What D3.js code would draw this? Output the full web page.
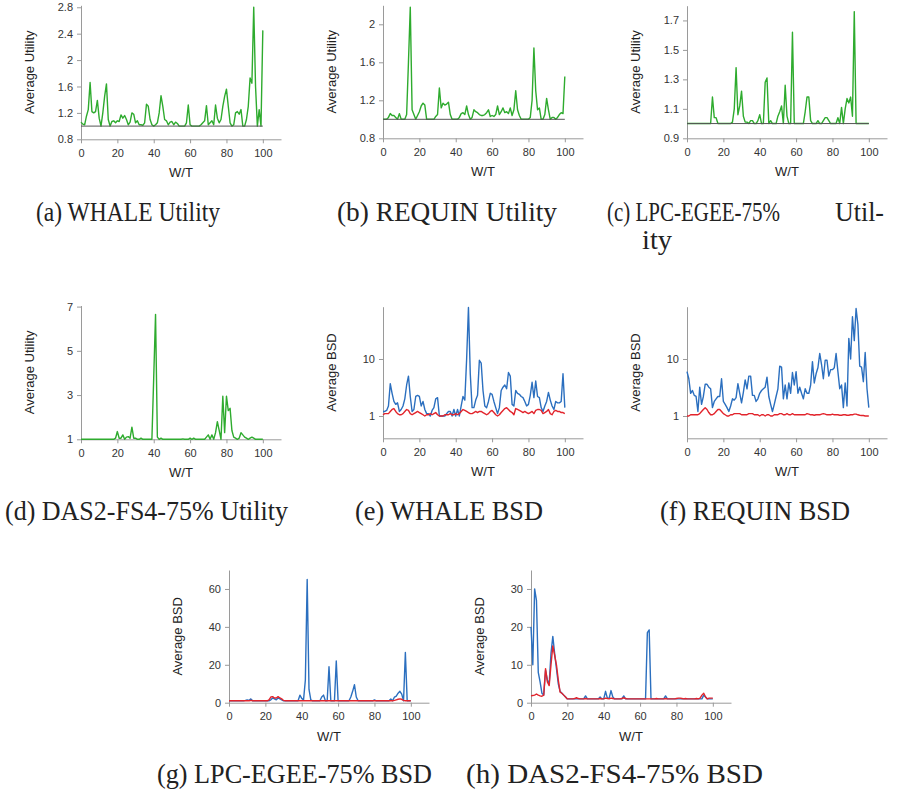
<!DOCTYPE html>
<html>
<head>
<meta charset="utf-8">
<script src="https://cdn.jsdelivr.net/npm/d3@7"></script>
<style>
  body { margin: 0; background: #fff; }
  .axis path, .axis line { stroke: #9a9a9a; }
  .axis text { font-family: "Liberation Sans", Arial, sans-serif; font-size: 11px; fill: #333; }
  .label { font-family: "Liberation Sans", Arial, sans-serif; font-size: 13px; fill: #222; }
  .caption { font-family: "Liberation Serif", serif; font-size: 27px; fill: #222; }
  .series { fill: none; stroke-width: 1.4; stroke-linejoin: round; }
</style>
</head>
<body>
<svg id="fig" width="908" height="794"></svg>
<script>

// W/T values, one point per unit
var wt = d3.range(0, 101);
var xTicks = [0, 20, 40, 60, 80, 100];

// (a) WHALE utility
var whaleUtil = [
  1.06,1.03,1.02,1.15,1.25,1.66,1.22,1.2,1.22,1.39,
  1.12,1,1.2,1.45,1.64,1.1,1,1.07,1.08,1.05,
  1.08,1.07,1.17,1.12,1.16,1.1,1.02,1.06,1.2,1.18,
  1.05,1.08,1.02,1.02,1.01,1.05,1.33,1.3,1.1,1.02,
  1,1.02,1.05,1.2,1.46,1.3,1.1,1.08,1.02,1.06,
  1.07,1.02,1.06,1.04,1,1,1,1,1.05,1.32,
  1.02,1,1,1,1,1,1.02,1.05,1.08,1.31,
  1.02,1.05,1.08,1.02,1.32,1.12,1.05,1.1,1.3,1.45,
  1.56,1.3,1.05,1,1.02,1.2,1.22,1.18,1.25,1,
  1,1.1,1.3,1.73,1.65,2.8,1.6,1,1.25,1,
  2.45 ];

// (b) REQUIN utility
var requinUtil = [
  1,1,1,1.02,1.06,1.04,1.04,1.02,1,1.06,
  1,1,1,1.05,1.6,2.18,1.1,1.05,1,1.04,
  1.08,1.14,1.17,1.15,1,1,1,1,1,1.03,
  1.05,1.33,1.12,1.17,1.15,1.16,1.18,1.05,1,1,
  1,1,1.02,1.06,1.07,1.05,1.14,1.05,1,1.02,
  1.1,1.08,1.07,1.05,1.04,1.04,1.05,1.07,1.1,1.03,
  1.04,1.03,1.05,1.14,1.05,1.08,1.12,1.07,1.08,1.06,
  1.12,1.04,1.1,1.3,1.1,1.04,1,1,1,1,
  1,1.02,1.2,1.75,1.3,1.1,1.12,1,1,1.05,
  1.22,1.1,1,1.02,1.02,1,1.02,1.05,1.07,1.06,
  1.45 ];

// (c) LPC-EGEE-75% utility
var lpcUtil = [
  1,1,1,1,1,1,1,1,1,1,
  1,1,1,1,1.18,1.04,1.04,1,1,1,
  1,1,1,1,1,1.01,1.1,1.38,1.06,1.12,
  1.22,1.05,1.01,1.01,1,1.02,1.02,1,1,1.02,
  1.06,1,1,1.28,1.31,1,1.02,1,1,1,
  1.05,1.08,1.12,1,1.26,1.05,1,1,1.62,1,
  1,1,1,1,1,1.08,1.18,1.18,1.02,1,
  1,1,1.02,1,1,1.02,1.04,1.04,1.02,1,
  1,1,1,1.04,1,1.11,1,1.1,1.17,1.14,
  1.18,1.05,1.76,1,1,1,1,1,1,1,
  1 ];

// (d) DAS2-FS4-75% utility
var dasUtil = [
  1,1,1,1,1,1,1,1,1,1,
  1,1,1,1,1,1,1,1,1,1.05,
  1.35,1.05,1.05,1.2,1,1.1,1.12,1.05,1.55,1.05,
  1.05,1,1,1.05,1,1,1,1,1,1,
  3.8,6.65,1.1,1,1.05,1,1,1,1,1,
  1,1,1,1,1,1,1.02,1,1,1,
  1.05,1,1.05,1,1,1,1,1,1,1.1,
  1.2,1,1.2,1,1.3,1.8,1.4,1,2.95,1.3,
  2.95,2.3,2.4,1.4,1.1,1.05,1,1.05,1.3,1.2,
  1.1,1.05,1,1.05,1.1,1.05,1,1,1,1,
  1 ];

// reference utility of 1
var baseUtil = [1, 1];
var baseWt = [0, 100];

// (e) WHALE BSD
var whaleBsdBlue = [
  1.2,1.2,1.25,1.5,3.7,2.5,1.8,1.6,1.7,1.2,
  1.3,1.5,2.0,3.5,5.0,2.2,1.2,1.3,2.2,2.3,
  2.2,1.5,1.8,1.3,1.1,1.1,1.0,1.25,1.4,2.0,
  2.1,1.0,1.0,1.0,1.0,1.1,1.2,1.2,1.0,1.3,
  1.0,1.3,1.0,1.5,2.2,1.9,10,80,5.5,1.4,
  1.4,1.9,2.3,9.5,8.5,2.8,1.5,1.4,1.8,2.5,
  2.4,1.8,1.4,1.1,1.4,2.8,3.2,3.5,3.0,5.8,
  5.0,1.6,1.5,2.8,2.5,2.4,2.2,2.1,1.8,1.5,
  1.6,2.3,3.9,2.1,4.1,2.2,2.1,1.4,1.2,1.5,
  1.8,2.6,1.9,1.5,1.3,1.8,1.7,1.7,1.8,5.5,
  1.4 ];
var whaleBsdRed = [
  1.05,1.1,1.1,1.1,1.2,1.3,1.35,1.2,1.1,1.05,
  1.05,1.1,1.2,1.3,1.25,1.1,1.05,1.1,1.15,1.2,
  1.15,1.1,1.05,1.0,1.05,1.05,1.1,1.05,1.1,1.15,
  1.05,1.0,1.0,1.0,1.05,1.05,1.05,1.1,1.05,1.05,
  1.1,1.05,1.1,1.2,1.3,1.25,1.2,1.15,1.1,1.1,
  1.15,1.2,1.15,1.2,1.2,1.15,1.1,1.05,1.1,1.2,
  1.25,1.15,1.05,1.0,1.05,1.15,1.25,1.35,1.4,1.3,
  1.2,1.15,1.05,1.35,1.3,1.25,1.2,1.15,1.2,1.15,
  1.1,1.15,1.2,1.1,1.25,1.3,1.3,1.25,1.1,1.15,
  1.2,1.3,1.1,1.05,1.2,1.25,1.2,1.2,1.15,1.15,
  1.1 ];

// (f) REQUIN BSD
var requinBsdBlue = [
  6.0,4.5,2.5,2.8,2.3,2.2,1.2,3.2,1.6,2.2,
  3.6,3.6,3.2,3.0,1.4,1.8,2.0,2.2,2.2,4.5,
  1.8,1.6,1.4,1.2,1.5,2.0,1.9,2.1,3.7,2.5,
  1.7,2.6,4.3,3.0,5.0,5.0,2.3,2.3,1.8,2.0,
  2.5,2.8,3.0,3.2,4.8,2.2,1.6,1.2,1.6,2.2,
  3.0,7.5,7.2,2.0,3.5,2.0,3.8,2.5,5.8,3.5,
  6.0,2.5,3.2,2.5,2.0,3.0,2.5,2.5,3.5,9.0,
  3.8,5.5,7.0,12.5,8.0,4.5,9.5,9.5,5.0,6.5,
  6.5,7.0,12.5,6.0,3.0,3.5,1.4,3.8,1.5,23,
  10,55,21,77,40,7.5,7.2,4.0,13,3.0,
  1.4 ];
var requinBsdRed = [
  1.0,1.0,1.05,1.05,1.05,1.05,1.05,1.1,1.2,1.3,
  1.4,1.3,1.15,1.05,1.05,1.1,1.2,1.3,1.3,1.2,
  1.1,1.05,1.0,1.0,1.05,1.05,1.1,1.1,1.1,1.1,
  1.05,1.05,1.05,1.05,1.1,1.1,1.1,1.05,1.05,1.05,
  1.0,1.05,1.05,1.0,1.05,1.05,1.0,1.0,1.05,1.05,
  1.05,1.1,1.1,1.05,1.05,1.1,1.05,1.05,1.1,1.05,
  1.05,1.05,1.05,1.05,1.05,1.05,1.1,1.08,1.05,1.05,
  1.03,1.05,1.05,1.05,1.08,1.1,1.08,1.05,1.05,1.05,
  1.08,1.05,1.05,1.05,1.03,1.03,1.05,1.05,1.03,1.03,
  1.05,1.05,1.08,1.08,1.05,1.03,1.02,1.02,1.0,1.0,
  1.0 ];

// (g) LPC-EGEE-75% BSD
var lpcBsdBlue = [
  1,1,1,1,1,1,1,1,1,1.2,
  1.5,1.2,2.0,1,1,1,1,1,1,1,
  1,1,1,1.5,2.5,2.0,1.5,2.5,2.0,1.5,
  1,1,1,1,1,1,1,1,1,4.0,
  2.3,1.5,12,65,7,1.5,1,1,1,1,
  1,3.0,4.0,1,1,19,1,1,1,22,
  1,1,1,1,1,1,1,3.0,6.0,9.5,
  3.0,1,1,1,1,1,1,1,1,1,
  1.5,1,1,1,1,1,1,1,1,2.0,
  1,3.0,3.5,5.0,6.0,4.5,1,26.5,1,1,
  1 ];
var lpcBsdRed = [
  1,1,1,1,1,1,1,1,1,1,
  1,1,1.2,1,1,1,1,1,1,1,
  1,1,1.5,3.0,3.2,2.5,2.5,3.2,2.5,2.0,
  1.2,1,1,1,1,1,1,1,1,1,
  1,1,1,1,1,1,1,1,1,1,
  1,1,1,1,1,1,1,1,1,1,
  1,1,1,1,1,1,1,1,1,1,
  1,1,1,1,1,1,1,1,1,1,
  1,1,1,1,1,1,1,1,1,1,
  1,1.2,1.5,1.8,2.0,1.8,1.2,1,1,1,
  1 ];

// (h) DAS2-FS4-75% BSD
var dasBsdBlue = [
  20,10,30,27,8,5.5,2.5,2.0,8.5,6.0,
  5.0,13,17.5,13,9,5,3,2.5,2.0,1.5,
  1,1,1,1,1,1,1,1,1,1,
  1.8,1,1,1,1,1,1,1,1.5,1,
  1,3.0,1.2,1.2,3.2,1.5,1,1,1,1,
  1,1.8,1,1,1,1,1,1,1,1,
  1,1,1,1,18.5,19.2,1,1,1,1,
  1,1,1,1,1.8,1,1,1,1,1,
  1,1,1,1,1,1,1,1,1,1,
  1,1,1,1,1,2.0,1.5,1,1,1,
  1 ];
var dasBsdRed = [
  1.8,1.9,2.0,2.3,2.0,1.8,1.7,2.0,9.0,5.5,
  4.5,10,15,12.5,10,6,2.8,2.5,2.0,1.5,
  1.0,1.0,1.0,1.0,1.1,1.3,1.1,1.0,1.0,1.0,
  1.1,1.0,1.0,1.0,1.0,1.0,1.0,1.0,1.1,1.0,
  1.0,1.2,1.1,1.0,1.2,1.1,1.0,1.0,1.0,1.0,
  1.1,1.3,1.1,1.0,1.0,1.0,1.0,1.0,1.0,1.0,
  1.0,1.0,1.0,1.0,1.0,1.0,1.0,1.0,1.0,1.1,
  1.0,1.0,1.0,1.0,1.1,1.0,1.0,1.0,1.0,1.0,
  1.1,1.2,1.2,1.1,1.0,1.1,1.0,1.0,1.0,1.0,
  1.0,1.1,1.0,1.2,2.0,2.5,1.5,1.0,1.2,1.2,
  1.2 ];

// y tick labels
var ticksA = [0.8, 1.2, 1.6, 2, 2.4, 2.8];
var ticksB = [0.8, 1.2, 1.6, 2];
var ticksC = [0.9, 1.1, 1.3, 1.5, 1.7];
var ticksD = [1, 3, 5, 7];
var ticksBsdLog = [1, 10];
var ticksG = [0, 20, 40, 60];
var ticksH = [0, 10, 20, 30];

var captions = [
  '(a) WHALE Utility', '(b) REQUIN Utility', '(c) LPC-EGEE-75%', 'Util-', 'ity',
  '(d) DAS2-FS4-75% Utility', '(e) WHALE BSD', '(f) REQUIN BSD',
  '(g) LPC-EGEE-75% BSD', '(h) DAS2-FS4-75% BSD'
];

var GREEN = '#2eab2e', BLUE = '#2b6fbf', RED = '#e2242c', BASE = '#555';

var svg = d3.select('#fig');
svg.append('rect').attr('width', 908).attr('height', 794).attr('fill', '#fff');

function drawPanel( p ) {

  var scaleX = d3.scaleLinear()
    .domain([ 0, 110 ])
    .range([ p.left, p.left + 200 ]);

  var scaleY = ( p.log ? d3.scaleLog() : d3.scaleLinear() )
    .domain( p.yDomain )
    .range([ p.bottom, p.top ]);

  var axisX = d3.axisBottom( scaleX )
    .tickValues( xTicks )
    .tickSize( 4 ).tickSizeOuter( 0 ).tickPadding( 6 );

  var axisY = d3.axisLeft( scaleY )
    .tickValues( p.yTicks )
    .tickFormat( function( d ) { return String( d ); })
    .tickSize( 4 ).tickSizeOuter( 0 ).tickPadding( 4 );

  svg.append('g')
    .classed('axis', true)
    .attr('transform', 'translate(0,' + p.bottom + ')')
    .call( axisX );

  svg.append('g')
    .classed('axis', true)
    .attr('transform', 'translate(' + p.left + ',0)')
    .call( axisY );

  var line = d3.line()
    .x( function( d, i ) { return scaleX( wt[i] ); })
    .y( function( d ) { return scaleY( d ); });

  p.series.forEach( function( s ) {
    svg.append('path')
      .classed('series', true)
      .datum( s.values )
      .attr('stroke', s.color )
      .attr('d', line );
  });

  if ( p.base ) {
    svg.append('path')
      .datum( baseUtil )
      .attr('fill', 'none')
      .attr('stroke', BASE )
      .attr('stroke-width', 1)
      .attr('d', d3.line()
        .x( function( d, i ) { return scaleX( baseWt[i] ); })
        .y( function( d ) { return scaleY( d ); }) );
  }

  var midY = ( p.top + p.bottom ) / 2;
  svg.append('text')
    .classed('label', true)
    .attr('text-anchor', 'middle')
    .attr('transform', 'translate(' + ( p.left - 47 ) + ',' + midY + ') rotate(-90)')
    .text( p.yLabel );

  svg.append('text')
    .classed('label', true)
    .attr('text-anchor', 'middle')
    .attr('x', scaleX( 55 ) )
    .attr('y', p.bottom + 38 )
    .text('W/T');
}

var panels = [
  { left: 81,  top: 5.3, bottom: 139.3, yDomain: [0.8, 2.83], yTicks: ticksA, yLabel: 'Average Utility', base: true,
    series: [ { values: whaleUtil, color: GREEN } ] },
  { left: 383, top: 5.3, bottom: 138.3, yDomain: [0.8, 2.2], yTicks: ticksB, yLabel: 'Average Utility', base: true,
    series: [ { values: requinUtil, color: GREEN } ] },
  { left: 687, top: 5.7, bottom: 138.3, yDomain: [0.9, 1.8], yTicks: ticksC, yLabel: 'Average Utility', base: true,
    series: [ { values: lpcUtil, color: GREEN } ] },
  { left: 81,  top: 305.5, bottom: 439.3, yDomain: [1, 7.05], yTicks: ticksD, yLabel: 'Average Utility',
    series: [ { values: dasUtil, color: GREEN } ] },
  { left: 383, top: 306.7, bottom: 438.3, yDomain: [0.406, 82.7], log: true, yTicks: ticksBsdLog, yLabel: 'Average BSD',
    series: [ { values: whaleBsdBlue, color: BLUE }, { values: whaleBsdRed, color: RED } ] },
  { left: 687, top: 306.7, bottom: 438.3, yDomain: [0.406, 82.7], log: true, yTicks: ticksBsdLog, yLabel: 'Average BSD',
    series: [ { values: requinBsdBlue, color: BLUE }, { values: requinBsdRed, color: RED } ] },
  { left: 229, top: 570, bottom: 702.7, yDomain: [0, 70], yTicks: ticksG, yLabel: 'Average BSD',
    series: [ { values: lpcBsdBlue, color: BLUE }, { values: lpcBsdRed, color: RED } ] },
  { left: 531, top: 570, bottom: 702.7, yDomain: [0, 35], yTicks: ticksH, yLabel: 'Average BSD',
    series: [ { values: dasBsdBlue, color: BLUE }, { values: dasBsdRed, color: RED } ] }
];

panels.forEach( drawPanel );

// sub-figure captions: [x, baseline y, width] (the printed font is narrow and tall)
var captionBox = [
  [36, 221, 184], [337, 221, 220], [607, 221, 173], [835, 221, 49], [642, 249, 30],
  [5, 520, 283], [355, 520, 188], [660, 520, 190],
  [157, 783, 275], [466, 783, 297]
];

svg.selectAll('.caption')
  .data( captions )
  .enter()
  .append('text')
  .classed('caption', true)
  .attr('x', function( d, i ) { return captionBox[i][0]; })
  .attr('y', function( d, i ) { return captionBox[i][1]; })
  .attr('textLength', function( d, i ) { return captionBox[i][2]; })
  .attr('lengthAdjust', 'spacingAndGlyphs')
  .text( function( d ) { return d; });

</script>
</body>
</html>
